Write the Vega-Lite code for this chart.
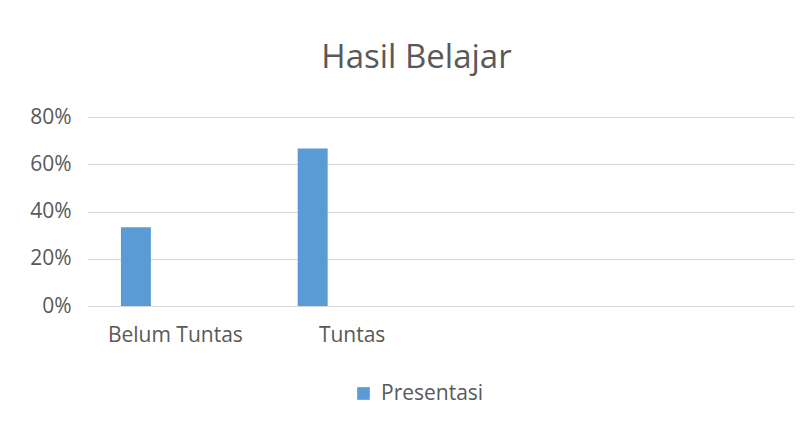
{
  "$schema": "https://vega.github.io/schema/vega-lite/v6.json",
  "width": 707,
  "height": 189,
  "autosize": {"type": "none"},
  "padding": {"left": 87, "top": 117, "right": 12, "bottom": 118},
  "background": "white",
  "title": {
    "text": "Hasil Belajar",
    "font": "Open Sans",
    "fontSize": 33,
    "fontWeight": "normal",
    "color": "#595959",
    "anchor": "middle",
    "dx": -24,
    "offset": 31
  },
  "config": {
    "view": {"stroke": null},
    "font": "Open Sans"
  },
  "data": {
    "values": [
      {"kategori": "Belum Tuntas", "series": "Presentasi", "nilai": 0.3333},
      {"kategori": "Tuntas", "series": "Presentasi", "nilai": 0.6667}
    ]
  },
  "mark": {"type": "bar"},
  "encoding": {
    "x": {
      "field": "kategori",
      "type": "nominal",
      "scale": {"domain": ["Belum Tuntas", "Tuntas", "c3", "c4"], "paddingInner": 0, "paddingOuter": 0},
      "axis": {
        "title": null,
        "labelAngle": 0,
        "labelExpr": "indexof(['Belum Tuntas','Tuntas'], datum.value) >= 0 ? datum.value : ''",
        "labelFont": "Open Sans",
        "labelFontSize": 21,
        "labelColor": "#595959",
        "labelPadding": 18,
        "ticks": false,
        "domain": false,
        "grid": false
      }
    },
    "xOffset": {
      "field": "series",
      "type": "nominal",
      "scale": {"domain": ["Presentasi", "s2", "s3"], "paddingInner": 0.24, "paddingOuter": 0.86}
    },
    "y": {
      "field": "nilai",
      "type": "quantitative",
      "scale": {"domain": [0, 0.8], "nice": false},
      "axis": {
        "title": null,
        "values": [0, 0.2, 0.4, 0.6, 0.8],
        "format": ".0%",
        "labelFont": "Open Sans",
        "labelFontSize": 21,
        "labelColor": "#595959",
        "labelPadding": 16,
        "ticks": false,
        "domain": false,
        "grid": true,
        "gridColor": "#d9d9d9",
        "gridWidth": 1
      }
    },
    "color": {
      "field": "series",
      "type": "nominal",
      "scale": {"domain": ["Presentasi"], "range": ["#5B9BD5"]},
      "legend": {
        "title": null,
        "orient": "none",
        "legendX": 266,
        "legendY": 266,
        "symbolType": "square",
        "symbolSize": 160,
        "symbolStrokeWidth": 0,
        "symbolOpacity": 1,
        "labelFont": "Open Sans",
        "labelFontSize": 21,
        "labelColor": "#595959",
        "labelOffset": 7
      }
    }
  }
}
